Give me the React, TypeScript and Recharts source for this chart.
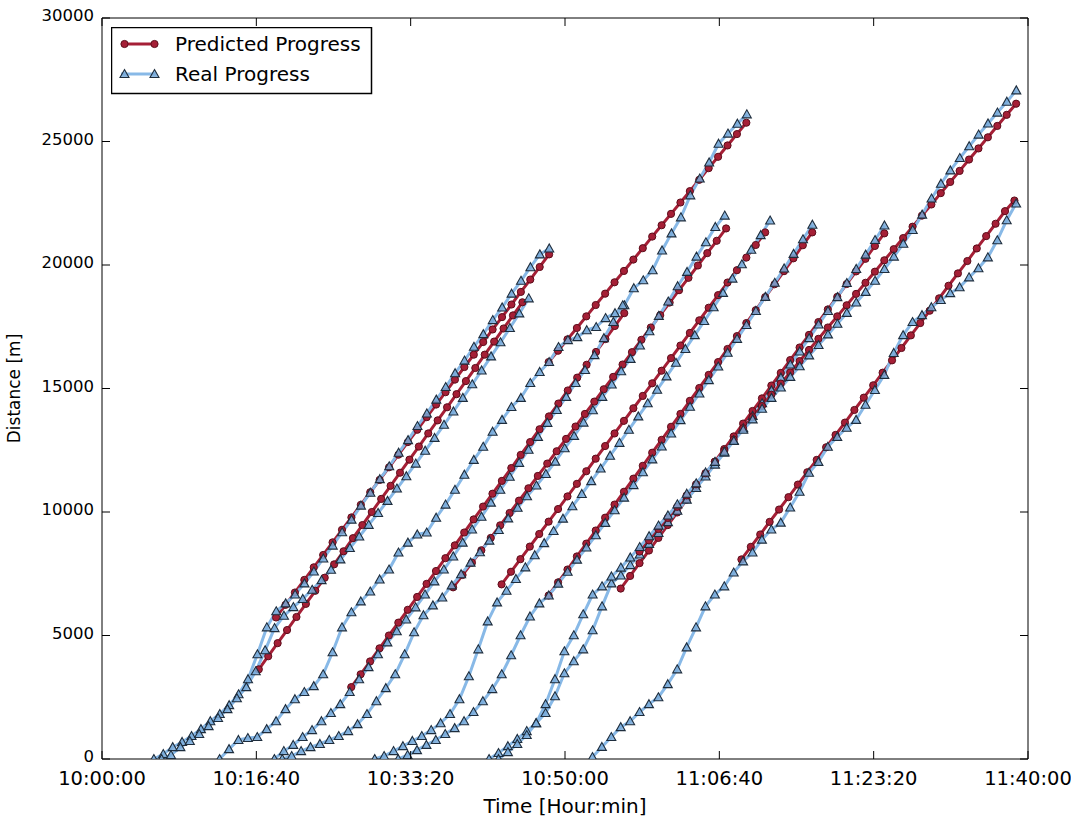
import { LineChart, Line, XAxis, YAxis, ReferenceLine, Legend } from 'recharts'

const STEP = 61 // seconds between two samples of a run

const X_TICKS = [0, 1000, 2000, 3000, 4000, 5000, 6000]
const Y_TICKS = [0, 5000, 10000, 15000, 20000, 25000, 30000]

// seconds after 10:00:00 of the first sample, then distance [m] per sample
const A_REAL_START = 336
const A_REAL = [0, 200, 480, 690, 930, 1210, 1530, 1820, 2180, 2620, 3230, 4240, 5330, 5980, 6300, 6660, 7110, 7590, 8120, 8640, 9180, 9690, 10260, 10780, 11330, 11850, 12400, 12910, 13480, 13990, 14550, 15060, 15620, 16130, 16690, 17200, 17770, 18280, 18840, 19360, 19910, 20430, 20670]
const A_PRED_START = 1128
const A_PRED = [5730, 6240, 6740, 7250, 7760, 8260, 8770, 9280, 9780, 10290, 10800, 11300, 11810, 12320, 12830, 13330, 13840, 14350, 14850, 15360, 15870, 16370, 16880, 17390, 17890, 18400, 18910, 19410, 19920, 20430]

const B_REAL_START = 386
const B_REAL = [0, 160, 480, 730, 1010, 1330, 1660, 2020, 2460, 2910, 3550, 4400, 5300, 5800, 6150, 6480, 6850, 7240, 7660, 8080, 8540, 9010, 9480, 9960, 10450, 10950, 11450, 11960, 12480, 13000, 13530, 14070, 14620, 15170, 15730, 16300, 16870, 17450, 18040, 18650]
const B_PRED_START = 1016
const B_PRED = [3630, 4160, 4690, 5220, 5750, 6280, 6810, 7340, 7880, 8410, 8940, 9470, 10000, 10530, 11060, 11590, 12120, 12650, 13180, 13710, 14240, 14770, 15300, 15830, 16370, 16900, 17430, 17960, 18490]

const C_REAL_START = 762
const C_REAL = [0, 400, 770, 850, 890, 1210, 1530, 2020, 2420, 2710, 2950, 3430, 4320, 5330, 5940, 6380, 6780, 7270, 7670, 8360, 8760, 9090, 9170, 9770, 10300, 10900, 11510, 12110, 12640, 13250, 13730, 14250, 14620, 15220, 15670, 16070, 16680, 16960, 17080, 17360, 17490, 17850, 18050, 18370, 19060, 19380, 19790, 20590, 21280, 21930, 22820, 23500, 24150, 24910, 25320, 25720, 26100]
const C_PRED_START = 2894
const C_PRED = [16070, 16530, 16990, 17450, 17920, 18380, 18840, 19300, 19760, 20220, 20680, 21150, 21610, 22070, 22530, 22990, 23450, 23920, 24380, 24840, 25300, 25760]

const D_REAL_START = 1117
const D_REAL = [0, 320, 570, 890, 1170, 1530, 1860, 2220, 2710, 3230, 3720, 4240, 4720, 5170, 5650, 6140, 6660, 7190, 7670, 8200, 8760, 9290, 9810, 10380, 10900, 11430, 11990, 12520, 13040, 13610, 14130, 14660, 15220, 15750, 16350, 17040, 17690, 18370]
const D_PRED_START = 1615
const D_PRED = [2910, 3430, 3950, 4480, 5000, 5520, 6040, 6560, 7090, 7610, 8130, 8650, 9170, 9700, 10220, 10740, 11260, 11780, 12310, 12830, 13350, 13870, 14390, 14920, 15440, 15960, 16480, 17000, 17530, 18050]

const E_REAL_START = 1168
const E_REAL = [0, 120, 320, 480, 610, 770, 930, 1130, 1410, 1820, 2340, 2870, 3430, 4240, 5130, 5820, 6220, 6540, 7030, 7480, 7950, 8370, 8840, 9270, 9740, 10170, 10640, 11070, 11540, 12040, 12580, 13080, 13620, 14120, 14660, 15160, 15700, 16200, 16740, 17320, 17940, 18520, 19140, 19720, 20340, 20920, 21540, 22000]
const E_PRED_START = 2275
const E_PRED = [6950, 7450, 7950, 8450, 8950, 9460, 9960, 10460, 10960, 11460, 11960, 12460, 12960, 13460, 13970, 14470, 14970, 15470, 15970, 16470, 16970, 17470, 17970, 18480, 18980, 19480, 19980, 20480, 20980, 21480]

const F_REAL_START = 1767
const F_REAL = [0, 120, 320, 520, 730, 930, 1170, 1450, 1820, 2420, 3350, 4440, 5570, 6340, 6810, 7290, 7760, 8250, 8740, 9230, 9730, 10230, 10730, 11250, 11760, 12280, 12800, 13330, 13870, 14400, 14950, 15490, 16040, 16600, 17160, 17730, 18290, 18870, 19450, 20030, 20620, 21210, 21800]
const F_PRED_START = 2589
const F_PRED = [7070, 7580, 8090, 8600, 9110, 9610, 10120, 10630, 11140, 11650, 12160, 12670, 13180, 13690, 14200, 14700, 15210, 15720, 16230, 16740, 17250, 17760, 18270, 18780, 19290, 19790, 20300, 20810, 21320]

const G_REAL_START = 1919
const G_REAL = [0, 160, 360, 570, 770, 1010, 1250, 1530, 1900, 2340, 2830, 3430, 4200, 5010, 5770, 6300, 6620, 7100, 7580, 8070, 8560, 9060, 9560, 10070, 10580, 11090, 11610, 12130, 12650, 13180, 13720, 14260, 14800, 15340, 15890, 16450, 17010, 17570, 18140, 18710, 19280, 19860, 20450, 21040, 21630]
const G_PRED_START = 2894
const G_PRED = [6620, 7150, 7670, 8200, 8720, 9250, 9770, 10300, 10820, 11350, 11870, 12400, 12920, 13450, 13970, 14500, 15020, 15550, 16070, 16600, 17120, 17650, 18170, 18700, 19220, 19750, 20270, 20800, 21320]

const H_REAL_START = 2508
const H_REAL = [0, 240, 520, 810, 1130, 1450, 1860, 2540, 3470, 3960, 4440, 5210, 6180, 7110, 7430, 7850, 8280, 8710, 9150, 9590, 10050, 10500, 10970, 11440, 11920, 12400, 12890, 13390, 13890, 14400, 14920, 15440, 15970, 16500, 17040, 17590, 18140, 18700, 19270, 19840, 20420, 21010, 21600]
const H_PRED_START = 3361
const H_PRED = [6900, 7410, 7930, 8440, 8950, 9470, 9980, 10500, 11010, 11520, 12040, 12550, 13060, 13580, 14090, 14600, 15120, 15630, 16150, 16660, 17170, 17690, 18200, 18710, 19230, 19740, 20250, 20770, 21280]

const I_REAL_START = 2569
const I_REAL = [0, 280, 610, 970, 1450, 2220, 3230, 4360, 5010, 5860, 6660, 6990, 7390, 7750, 8160, 8580, 9020, 9450, 9860, 10310, 10740, 11160, 11600, 12030, 12440, 12880, 13330, 13750, 14180, 14620, 15040, 15470, 15900, 16340, 16760, 17190, 17620, 18060, 18480, 18910, 19360, 19840, 20340, 20860, 21420, 22040, 22690, 23290, 23830, 24330, 24810, 25280, 25730, 26170, 26610, 27070]
const I_PRED_START = 3483
const I_PRED = [8400, 8850, 9310, 9760, 10210, 10670, 11120, 11570, 12030, 12480, 12930, 13390, 13840, 14290, 14750, 15200, 15650, 16110, 16560, 17010, 17470, 17920, 18370, 18830, 19280, 19730, 20190, 20640, 21090, 21550, 22000, 22450, 22910, 23360, 23810, 24270, 24720, 25170, 25630, 26080, 26530]

const J_REAL_START = 3178
const J_REAL = [80, 490, 890, 1290, 1530, 1900, 2220, 2500, 3030, 3630, 4520, 5330, 6180, 6660, 6990, 7550, 8000, 8360, 8880, 9290, 9570, 10180, 10820, 11590, 12030, 12640, 13040, 13410, 13730, 14340, 14940, 15550, 16440, 17160, 17690, 17970, 18290, 18580, 18860, 19100, 19500, 19870, 20310, 21000, 21810, 22490]
const J_PRED_START = 4143
const J_PRED = [8080, 8590, 9090, 9600, 10100, 10600, 11110, 11610, 12110, 12620, 13120, 13620, 14130, 14630, 15130, 15640, 16140, 16640, 17150, 17650, 18150, 18650, 19160, 19660, 20160, 20670, 21170, 21670, 22180, 22610]

const RUNS = [
  { id: 'A', real: [A_REAL_START, A_REAL], pred: [A_PRED_START, A_PRED] },
  { id: 'B', real: [B_REAL_START, B_REAL], pred: [B_PRED_START, B_PRED] },
  { id: 'C', real: [C_REAL_START, C_REAL], pred: [C_PRED_START, C_PRED] },
  { id: 'D', real: [D_REAL_START, D_REAL], pred: [D_PRED_START, D_PRED] },
  { id: 'E', real: [E_REAL_START, E_REAL], pred: [E_PRED_START, E_PRED] },
  { id: 'F', real: [F_REAL_START, F_REAL], pred: [F_PRED_START, F_PRED] },
  { id: 'G', real: [G_REAL_START, G_REAL], pred: [G_PRED_START, G_PRED] },
  { id: 'H', real: [H_REAL_START, H_REAL], pred: [H_PRED_START, H_PRED] },
  { id: 'I', real: [I_REAL_START, I_REAL], pred: [I_PRED_START, I_PRED] },
  { id: 'J', real: [J_REAL_START, J_REAL], pred: [J_PRED_START, J_PRED] },
] as const

const RED = '#a51f36'
const RED_EDGE = '#5c0d1b'
const BLUE = '#88b9e7'
const TRI_FILL = '#79aad9'
const TRI_EDGE = '#1e2d3d'
const FONT = 'DejaVu Sans, sans-serif'

// plot box in px (chart sits at page 0,0)
const LEFT = 102
const RIGHT = 1028
const TOP = 18
const BOTTOM = 759

const toPoints = (start: number, values: readonly number[]) =>
  values.map((d, i) => ({ t: start + i * STEP, d }))

const pad = (n: number) => String(n).padStart(2, '0')
const fmtTime = (s: number) => {
  const total = 10 * 3600 + s
  return `${pad(Math.floor(total / 3600))}:${pad(Math.floor((total % 3600) / 60))}:${pad(total % 60)}`
}

function Triangle(props: any) {
  const { cx, cy } = props
  if (cx == null || cy == null) return null
  return (
    <path
      d={`M${cx},${cy - 4.5} L${cx + 4.5},${cy + 3.5} L${cx - 4.5},${cy + 3.5} Z`}
      fill={TRI_FILL}
      fillOpacity={0.85}
      stroke={TRI_EDGE}
      strokeWidth={1.1}
    />
  )
}

const triDot = (p: any) => {
  const { key, ...rest } = p
  return <Triangle key={key ?? `tri-${p.index}`} {...rest} />
}

function BottomTick({ x, payload }: any) {
  return (
    <g>
      <line x1={x} x2={x} y1={BOTTOM} y2={BOTTOM - 8} stroke="#000" />
      <line x1={x} x2={x} y1={TOP} y2={TOP + 8} stroke="#000" />
      <text x={x} y={BOTTOM + 26} textAnchor="middle" fontSize={19.5} fontFamily={FONT} fill="#000">
        {fmtTime(payload.value)}
      </text>
    </g>
  )
}

function LeftTick({ y, payload }: any) {
  return (
    <g>
      <line x1={LEFT} x2={LEFT + 8} y1={y} y2={y} stroke="#000" />
      <line x1={RIGHT} x2={RIGHT - 8} y1={y} y2={y} stroke="#000" />
      <text x={LEFT - 8} y={y + 3} textAnchor="end" fontSize={16.5} fontFamily={FONT} fill="#000">
        {payload.value}
      </text>
    </g>
  )
}

function LegendBox() {
  return (
    <svg width={262} height={68} style={{ display: 'block' }}>
      <rect x={0.5} y={0.5} width={260} height={66} fill="#fff" stroke="#000" strokeWidth={1.5} />
      <line x1={10} x2={45} y1={17} y2={17} stroke={RED} strokeWidth={3} />
      <circle cx={13.5} cy={17} r={3.6} fill={RED} stroke={RED_EDGE} />
      <circle cx={43.5} cy={17} r={3.6} fill={RED} stroke={RED_EDGE} />
      <text x={64} y={24} fontSize={20} fontFamily={FONT} fill="#000">Predicted Progress</text>
      <line x1={10} x2={45} y1={47} y2={47} stroke={BLUE} strokeWidth={3} />
      <Triangle cx={13.5} cy={47} />
      <Triangle cx={43.5} cy={47} />
      <text x={64} y={54} fontSize={20} fontFamily={FONT} fill="#000">Real Progress</text>
    </svg>
  )
}

export default function App() {
  return (
    <div style={{ position: 'absolute', left: 0, top: 0, background: '#fff' }}>
      <LineChart width={1071} height={817} margin={{ top: TOP, right: 1071 - RIGHT, left: 0, bottom: 0 }}>
        <XAxis
          dataKey="t"
          type="number"
          domain={[0, 6000]}
          ticks={X_TICKS}
          interval={0}
          allowDataOverflow
          height={817 - BOTTOM}
          tickLine={false}
          stroke="#000"
          tick={<BottomTick />}
          label={{ value: 'Time [Hour:min]', position: 'insideBottom', offset: 4, fontSize: 20, fontFamily: FONT, fill: '#000' }}
        />
        <YAxis
          type="number"
          domain={[0, 30000]}
          ticks={Y_TICKS}
          interval={0}
          allowDataOverflow
          width={LEFT}
          tickLine={false}
          stroke="#000"
          tick={<LeftTick />}
          label={{ value: 'Distance [m]', angle: -90, position: 'insideLeft', offset: 14, fontSize: 17, fontFamily: FONT, fill: '#000', style: { textAnchor: 'middle' } }}
        />
        <ReferenceLine y={30000} stroke="#000" />
        <ReferenceLine x={6000} stroke="#000" />
        {RUNS.map((r) => [
          <Line
            key={`${r.id}-pred`}
            data={toPoints(r.pred[0], r.pred[1])}
            dataKey="d"
            type="linear"
            stroke={RED}
            strokeWidth={3}
            dot={{ r: 3.6, fill: RED, stroke: RED_EDGE, strokeWidth: 1 }}
            isAnimationActive={false}
          />,
          <Line
            key={`${r.id}-real`}
            data={toPoints(r.real[0], r.real[1])}
            dataKey="d"
            type="linear"
            stroke={BLUE}
            strokeWidth={3}
            dot={triDot}
            isAnimationActive={false}
          />,
        ])}
        <Legend
          align="center"
          verticalAlign="middle"
          content={<LegendBox />}
          wrapperStyle={{ position: 'absolute', left: 111, top: 27, width: 262, height: 68 }}
        />
      </LineChart>
    </div>
  )
}
